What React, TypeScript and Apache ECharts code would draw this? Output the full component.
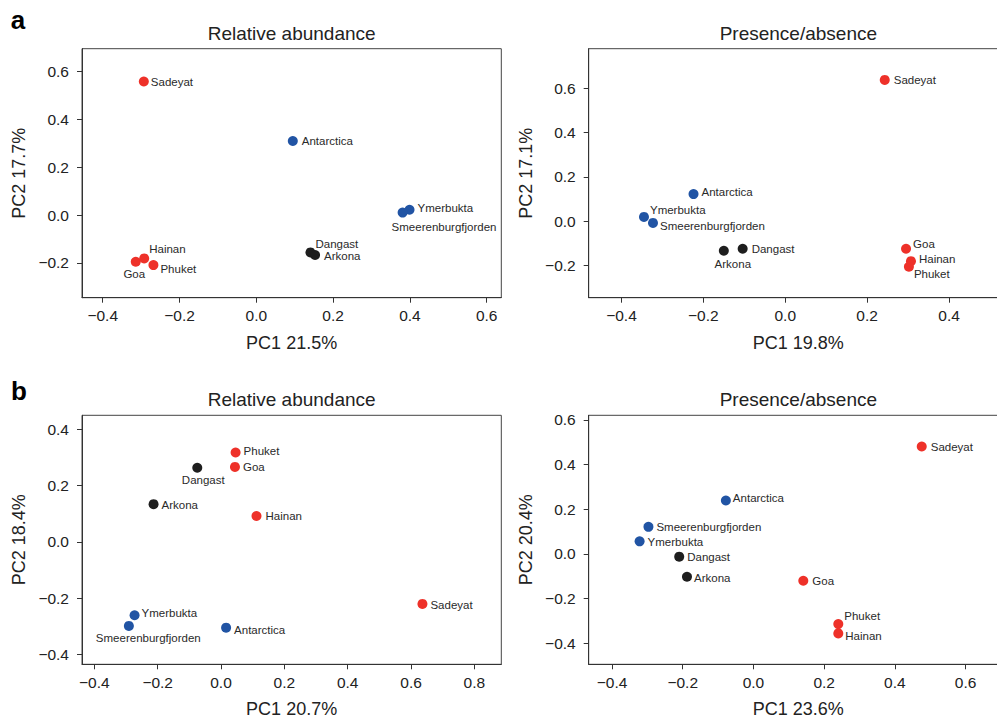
import React, { useEffect, useRef } from "react";
import * as echarts from "echarts";

// ---- data ----
const sites = ["Sadeyat", "Goa", "Hainan", "Phuket", "Dangast", "Arkona", "Antarctica", "Ymerbukta", "Smeerenburgfjorden"];
const siteGroup = ["tropical", "tropical", "tropical", "tropical", "temperate", "temperate", "polar", "polar", "polar"];

// a: relative abundance
const aRelPC1 = [-0.293, -0.314, -0.292, -0.268, 0.141, 0.153, 0.095, 0.399, 0.381];
const aRelPC2 = [0.557, -0.195, -0.181, -0.209, -0.156, -0.167, 0.309, 0.022, 0.010];
// a: presence/absence
const aPaPC1 = [0.243, 0.295, 0.307, 0.302, -0.104, -0.150, -0.224, -0.345, -0.323];
const aPaPC2 = [0.638, -0.125, -0.181, -0.206, -0.125, -0.134, 0.122, 0.019, -0.008];
// b: relative abundance
const bRelPC1 = [0.636, 0.044, 0.112, 0.046, -0.075, -0.213, 0.016, -0.273, -0.291];
const bRelPC2 = [-0.220, 0.266, 0.092, 0.317, 0.263, 0.134, -0.304, -0.260, -0.298];
// b: presence/absence
const bPaPC1 = [0.476, 0.141, 0.240, 0.240, -0.210, -0.188, -0.078, -0.322, -0.297];
const bPaPC2 = [0.481, -0.121, -0.357, -0.315, -0.013, -0.103, 0.239, 0.056, 0.121];

const panelTitles = ["Relative abundance", "Presence/absence", "Relative abundance", "Presence/absence"];
const xNames = ["PC1 21.5%", "PC1 19.8%", "PC1 20.7%", "PC1 23.6%"];
const yNames = ["PC2 17.7%", "PC2 17.1%", "PC2 18.4%", "PC2 20.4%"];
const xTicks = [
  [-0.4, -0.2, 0, 0.2, 0.4, 0.6],
  [-0.4, -0.2, 0, 0.2, 0.4],
  [-0.4, -0.2, 0, 0.2, 0.4, 0.6, 0.8],
  [-0.4, -0.2, 0, 0.2, 0.4, 0.6],
];
const yTicks = [
  [-0.2, 0, 0.2, 0.4, 0.6],
  [-0.2, 0, 0.2, 0.4, 0.6],
  [-0.4, -0.2, 0, 0.2, 0.4],
  [-0.4, -0.2, 0, 0.2, 0.4, 0.6],
];
const xRanges = [[-0.454, 0.638], [-0.48, 0.544], [-0.439, 0.885], [-0.466, 0.72]];
const yRanges = [[-0.345, 0.694], [-0.346, 0.779], [-0.434, 0.449], [-0.4955, 0.621]];

// ---- styles / label placement ----
const groupColor: Record<string, string> = { tropical: "#EE3129", temperate: "#1E1E1E", polar: "#2154A4" };
type LP = [string, number, number];
const labelPlace: Record<string, LP>[] = [
  {
    Sadeyat: ["left", 7, 0], Goa: ["center", -1.5, 12], Hainan: ["left", 5, -9], Phuket: ["left", 7, 4],
    Dangast: ["left", 5, -8], Arkona: ["left", 9, 1], Antarctica: ["left", 9, 0],
    Ymerbukta: ["left", 8, -2], Smeerenburgfjorden: ["left", -11, 14],
  },
  {
    Sadeyat: ["left", 9, 0], Goa: ["left", 7, -5], Hainan: ["left", 8, -2], Phuket: ["left", 5, 7],
    Dangast: ["left", 9, 0], Arkona: ["center", 9, 13], Antarctica: ["left", 8, -2],
    Ymerbukta: ["left", 6, -7], Smeerenburgfjorden: ["left", 7, 3],
  },
  {
    Sadeyat: ["left", 8, 1], Goa: ["left", 8, 0], Hainan: ["left", 9, 0], Phuket: ["left", 8, -2],
    Dangast: ["center", 6, 12], Arkona: ["left", 8, 1], Antarctica: ["left", 8, 2],
    Ymerbukta: ["left", 7, -2], Smeerenburgfjorden: ["left", -33, 12],
  },
  {
    Sadeyat: ["left", 9, 0], Goa: ["left", 9, 0], Hainan: ["left", 7, 3], Phuket: ["left", 6, -8],
    Dangast: ["left", 8, 0], Arkona: ["left", 7, 1], Antarctica: ["left", 7, -2],
    Ymerbukta: ["left", 8, 1], Smeerenburgfjorden: ["left", 8, 0],
  },
];

const FONT = "'Liberation Sans', Arial, Helvetica, sans-serif";
const gridLefts = [82, 588.7, 82, 588.7];
const gridTops = [48.7, 48.7, 415.3, 415.3];
const GRID_W = 419.3;
const GRID_H = 249;

const fmt = (v: number) => {
  const s = (Math.abs(v) < 1e-9 ? 0 : v).toFixed(1);
  return s.replace("-", "\u2212");
};

export default function App() {
  const ref = useRef<HTMLDivElement>(null);
  useEffect(() => {
    if (!ref.current) return;
    const chart = echarts.init(ref.current, undefined, { renderer: "svg" });
    const pcs = [
      [aRelPC1, aRelPC2],
      [aPaPC1, aPaPC2],
      [bRelPC1, bRelPC2],
      [bPaPC1, bPaPC2],
    ];
    const grids = gridLefts.map((l, i) => ({
      left: l,
      top: gridTops[i],
      width: GRID_W,
      height: GRID_H,
      show: true,
      borderColor: "#444",
      borderWidth: 1,
      backgroundColor: "transparent",
      containLabel: false,
      outerBoundsMode: "none",
    }));
    const xAxes = xTicks.map((t, i) => ({
      type: "value",
      gridIndex: i,
      min: xRanges[i][0],
      max: xRanges[i][1],
      name: xNames[i],
      nameLocation: "middle",
      nameGap: 36,
      nameTextStyle: { fontSize: 18, color: "#222", fontFamily: FONT },
      axisLine: { show: true, onZero: false, lineStyle: { color: "#333", width: 1 } },
      axisTick: { show: true, length: 5, customValues: t, lineStyle: { color: "#333" } },
      axisLabel: { show: true, customValues: t, margin: 10, fontSize: 15.5, color: "#222", fontFamily: FONT, formatter: fmt },
      splitLine: { show: false },
    }));
    const yAxes = yTicks.map((t, i) => ({
      type: "value",
      gridIndex: i,
      min: yRanges[i][0],
      max: yRanges[i][1],
      name: yNames[i],
      nameLocation: "middle",
      nameGap: 54,
      nameRotate: 90,
      nameTextStyle: { fontSize: 18, color: "#222", fontFamily: FONT },
      axisLine: { show: true, onZero: false, lineStyle: { color: "#333", width: 1 } },
      axisTick: { show: true, length: 5, customValues: t, lineStyle: { color: "#333" } },
      axisLabel: { show: true, customValues: t, margin: 13, fontSize: 15.5, color: "#222", fontFamily: FONT, formatter: fmt },
      splitLine: { show: false },
    }));
    const series = pcs.map(([px, py], i) => ({
      type: "scatter",
      xAxisIndex: i,
      yAxisIndex: i,
      symbolSize: 10,
      data: sites.map((s, k) => {
        const lp = labelPlace[i][s];
        return {
          name: s,
          value: [px[k], py[k]],
          itemStyle: { color: groupColor[siteGroup[k]], opacity: 1 },
          label: {
            show: true,
            position: "inside",
            align: lp[0],
            verticalAlign: "middle",
            offset: [lp[1], lp[2]],
            formatter: s,
            fontSize: 11.5,
            color: "#2a2a2a",
            fontFamily: FONT,
          },
        };
      }),
    }));
    const graphics: any[] = [
      { type: "text", x: 18, y: 20, style: { text: "a", font: `bold 26px ${FONT}`, fill: "#000", align: "center", verticalAlign: "middle" } },
      { type: "text", x: 19, y: 391, style: { text: "b", font: `bold 26px ${FONT}`, fill: "#000", align: "center", verticalAlign: "middle" } },
    ];
    const titleY = [33.3, 33.3, 399.3, 399.3];
    panelTitles.forEach((t, i) => {
      graphics.push({
        type: "text",
        x: gridLefts[i] + GRID_W / 2,
        y: titleY[i],
        style: { text: t, font: `19px ${FONT}`, fill: "#222", align: "center", verticalAlign: "middle" },
      });
    });
    chart.setOption({
      animation: false,
      backgroundColor: "#fff",
      grid: grids,
      xAxis: xAxes,
      yAxis: yAxes,
      series,
      graphic: graphics,
    } as any);
    return () => chart.dispose();
  }, []);
  return <div ref={ref} style={{ position: "fixed", left: 0, top: 0, width: 997, height: 718 }} />;
}
